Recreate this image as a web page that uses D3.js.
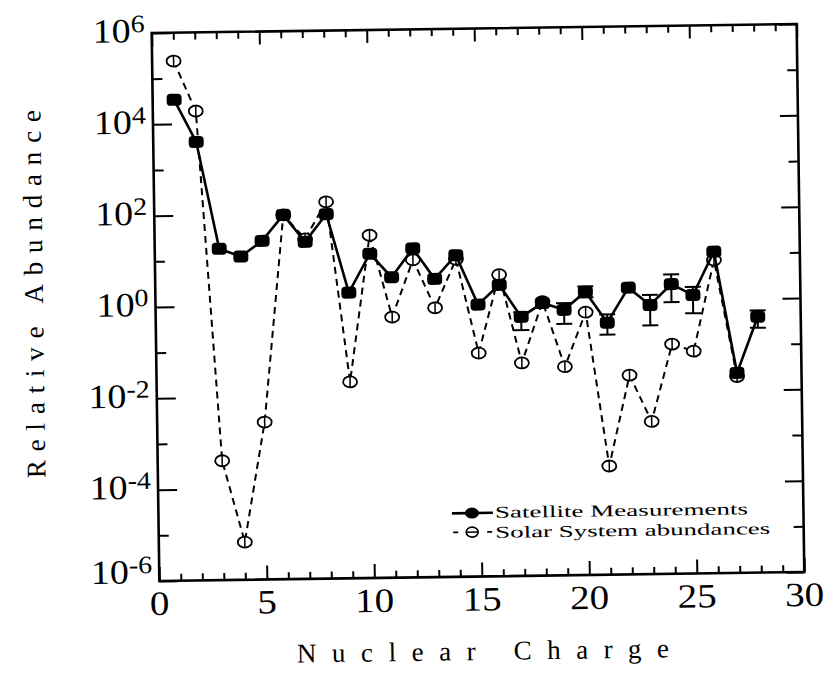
<!DOCTYPE html>
<html>
<head>
<meta charset="utf-8">
<script src="https://cdn.jsdelivr.net/npm/d3@7"></script>
<style>
  body { margin: 0; background: #fff; }
  svg { display: block; }
</style>
</head>
<body>
<svg id="chart" width="824" height="673"></svg>
<script>
// Nuclear charge Z for each measured element
const charges = [1, 2, 3, 4, 5, 6, 7, 8, 9, 10, 11, 12, 13, 14,
                 15, 16, 17, 18, 19, 20, 21, 22, 23, 24, 25, 26, 27, 28];

// Satellite measurements (relative abundance)
const satellite = [3.4e4, 4000, 18, 12, 26, 95, 24, 96, 1.8, 12.6, 3.8, 16, 3.4, 11,
                   0.9, 2.4, 0.47, 0.93, 0.65, 1.6, 0.33, 1.9, 0.78, 2.2, 1.25, 11, 0.024, 0.4];

// Error bar limits for the satellite points (null = bar hidden by the marker)
const satLow  = [null, null, null, null, null, null, null, null, null, null, null, null, null, null,
                 null, null, 0.24, null, 0.32, 1.2, 0.18, null, 0.28, 0.89, 0.5, null, null, 0.23];
const satHigh = [null, null, null, null, null, null, null, null, null, null, null, null, null, null,
                 null, null, 0.6, null, 0.91, 2.1, 0.5, null, 1.3, 3.6, 1.9, null, null, 0.55];

// Solar system abundances
const solarCharges = [1, 2, 3, 4, 5, 6, 7, 8, 9, 10, 11, 12, 13, 14,
                      15, 16, 17, 18, 19, 20, 21, 22, 23, 24, 25, 26, 27];
const solar = [2.4e5, 1.9e4, 4.1e-4, 6.7e-6, 2.8e-3, 95, 28, 178, 0.020, 32, 0.51, 9, 0.79, 9,
               0.078, 4.0, 0.046, 1.0, 0.037, 0.57, 2.4e-4, 0.023, 2.2e-3, 0.107, 0.074, 7.2, 0.02];

// Axis ticks and labels
const xMinorTicks = [0, 1, 2, 3, 4, 5, 6, 7, 8, 9, 10, 11, 12, 13, 14, 15,
                     16, 17, 18, 19, 20, 21, 22, 23, 24, 25, 26, 27, 28, 29, 30];
const xTickLabels = ["0", "5", "10", "15", "20", "25", "30"];
const yMajorExponents = [6, 4, 2, 0, -2, -4, -6];
const yMinorExponents = [5, 3, 1, -1, -3, -5];

const legendLabels = ["Satellite Measurements", "Solar System abundances"];

// ---- layout ----
const L = 155.5, R = 800.5, T = 28.5, B = 576.5;
const serif = "'Liberation Serif', 'Times New Roman', serif";

const svg = d3.select("#chart");
const root = svg.append("g").attr("transform", "rotate(-0.8, 478, 302.5)");

const x = d3.scaleLinear().domain([0, 30]).range([L, R]);
const y = d3.scaleLog().domain([1e-6, 1e6]).range([B, T]);

// ---- axes: ticks point inward on all four sides ----
function styleAxis(g) {
  g.select(".domain").remove();
  g.selectAll(".tick line").attr("stroke", "#000").attr("stroke-width", 2);
  g.selectAll(".tick text").remove();
}
const xMajor = xMinorTicks.filter(v => v % 5 === 0);
const xMinor = xMinorTicks.filter(v => v % 5 !== 0);

root.append("g").attr("transform", `translate(0,${B})`)
  .call(d3.axisBottom(x).tickValues(xMinor).tickSize(-7).tickFormat("")).call(styleAxis);
root.append("g").attr("transform", `translate(0,${B})`)
  .call(d3.axisBottom(x).tickValues(xMajor).tickSize(-14).tickFormat("")).call(styleAxis);
root.append("g").attr("transform", `translate(0,${T})`)
  .call(d3.axisTop(x).tickValues(xMinor).tickSize(-7).tickFormat("")).call(styleAxis);
root.append("g").attr("transform", `translate(0,${T})`)
  .call(d3.axisTop(x).tickValues(xMajor).tickSize(-13).tickFormat("")).call(styleAxis);

const yMajorVals = yMajorExponents.map(e => Math.pow(10, e));
const yMinorVals = yMinorExponents.map(e => Math.pow(10, e));
root.append("g").attr("transform", `translate(${L},0)`)
  .call(d3.axisLeft(y).tickValues(yMajorVals).tickSize(-19).tickFormat("")).call(styleAxis);
root.append("g").attr("transform", `translate(${L},0)`)
  .call(d3.axisLeft(y).tickValues(yMinorVals).tickSize(-10).tickFormat("")).call(styleAxis);
root.append("g").attr("transform", `translate(${R},0)`)
  .call(d3.axisRight(y).tickValues(yMajorVals).tickSize(-18).tickFormat("")).call(styleAxis);
root.append("g").attr("transform", `translate(${R},0)`)
  .call(d3.axisRight(y).tickValues(yMinorVals).tickSize(-10).tickFormat("")).call(styleAxis);

// frame
root.append("rect")
  .attr("x", L).attr("y", T).attr("width", R - L).attr("height", B - T)
  .attr("fill", "none").attr("stroke", "#000").attr("stroke-width", 2.6);

// ---- tick labels ----
root.append("g").selectAll("g").data(xTickLabels).join("g")
  .attr("transform", d => `translate(${x(+d)},${B + 34}) scale(1.15,1)`)
  .append("text")
  .attr("text-anchor", "middle")
  .attr("font-family", serif).attr("font-size", 34)
  .attr("fill", "#000")
  .text(d => d);

const yLab = root.append("g").selectAll("g").data(yMajorExponents).join("g")
  .attr("transform", e => `translate(${L - 7},${y(Math.pow(10, e)) + (e === -6 ? 2 : 9)}) scale(1.12,1)`)
  .append("text")
  .attr("text-anchor", "end")
  .attr("font-family", serif).attr("font-size", 34)
  .attr("fill", "#000");
yLab.append("tspan").text("10");
yLab.append("tspan").attr("dy", -10).attr("font-size", 25).text(e => String(e));

// ---- axis titles ----
root.append("text")
  .attr("x", 478).attr("y", 660)
  .attr("text-anchor", "middle")
  .attr("font-family", serif).attr("font-size", 27)
  .attr("textLength", 372).attr("lengthAdjust", "spacing")
  .text("Nuclear Charge");

root.append("text")
  .attr("transform", "translate(43,288) rotate(-90)")
  .attr("text-anchor", "middle")
  .attr("font-family", serif).attr("font-size", 27)
  .attr("textLength", 368).attr("lengthAdjust", "spacing")
  .text("Relative Abundance");

// ---- solar system abundances (dashed, open markers) ----
const solarData = solarCharges.map((z, i) => ({ z, v: solar[i] }));
root.append("path")
  .datum(solarData)
  .attr("fill", "none").attr("stroke", "#000").attr("stroke-width", 2)
  .attr("stroke-dasharray", "7,5")
  .attr("d", d3.line().x(d => x(d.z)).y(d => y(d.v)));

const solarMarks = root.append("g").selectAll("g").data(solarData).join("g")
  .attr("transform", d => `translate(${x(d.z)},${y(d.v)})`);
solarMarks.append("ellipse")
  .attr("rx", 7).attr("ry", 5.5)
  .attr("fill", "#fff").attr("stroke", "#000").attr("stroke-width", 1.8);
solarMarks.append("line")
  .attr("x1", 0).attr("x2", 0).attr("y1", -5.5).attr("y2", 5.5)
  .attr("stroke", "#000").attr("stroke-width", 1.5);

// ---- satellite measurements (solid, filled markers) ----
const satData = charges.map((z, i) => ({ z, v: satellite[i], lo: satLow[i], hi: satHigh[i] }));
root.append("path")
  .datum(satData)
  .attr("fill", "none").attr("stroke", "#000").attr("stroke-width", 2.6)
  .attr("d", d3.line().x(d => x(d.z)).y(d => y(d.v)));

const bars = root.append("g").selectAll("g").data(satData.filter(d => d.lo !== null)).join("g")
  .attr("stroke", "#000").attr("stroke-width", 2);
bars.append("line")
  .attr("x1", d => x(d.z)).attr("x2", d => x(d.z))
  .attr("y1", d => y(d.lo)).attr("y2", d => y(d.hi));
bars.append("line")
  .attr("x1", d => x(d.z) - 8).attr("x2", d => x(d.z) + 8)
  .attr("y1", d => y(d.lo)).attr("y2", d => y(d.lo));
bars.append("line")
  .attr("x1", d => x(d.z) - 8).attr("x2", d => x(d.z) + 8)
  .attr("y1", d => y(d.hi)).attr("y2", d => y(d.hi));

root.append("g").selectAll("rect").data(satData).join("rect")
  .attr("x", d => x(d.z) - 7.5).attr("y", d => y(d.v) - 6)
  .attr("width", 15).attr("height", 12).attr("rx", 4)
  .attr("fill", "#000");

// ---- legend ----
const lg = root.append("g");
lg.append("line").attr("x1", 449).attr("x2", 490).attr("y1", 513).attr("y2", 513)
  .attr("stroke", "#000").attr("stroke-width", 2.6);
lg.append("ellipse").attr("cx", 469).attr("cy", 513).attr("rx", 7).attr("ry", 5.5).attr("fill", "#000");
lg.append("text").attr("x", 492).attr("y", 518)
  .attr("font-family", serif).attr("font-size", 16.5)
  .attr("textLength", 253).attr("lengthAdjust", "spacingAndGlyphs")
  .text(legendLabels[0]);

lg.append("line").attr("x1", 450).attr("x2", 455).attr("y1", 532).attr("y2", 532)
  .attr("stroke", "#000").attr("stroke-width", 1.8);
lg.append("line").attr("x1", 484).attr("x2", 489).attr("y1", 532).attr("y2", 532)
  .attr("stroke", "#000").attr("stroke-width", 1.8);
lg.append("ellipse").attr("cx", 469).attr("cy", 532).attr("rx", 6).attr("ry", 5)
  .attr("fill", "#fff").attr("stroke", "#000").attr("stroke-width", 1.6);
lg.append("line").attr("x1", 463).attr("x2", 475).attr("y1", 532).attr("y2", 532)
  .attr("stroke", "#000").attr("stroke-width", 1.4);
lg.append("text").attr("x", 492).attr("y", 538)
  .attr("font-family", serif).attr("font-size", 16.5)
  .attr("textLength", 275).attr("lengthAdjust", "spacingAndGlyphs")
  .text(legendLabels[1]);
</script>
</body>
</html>
